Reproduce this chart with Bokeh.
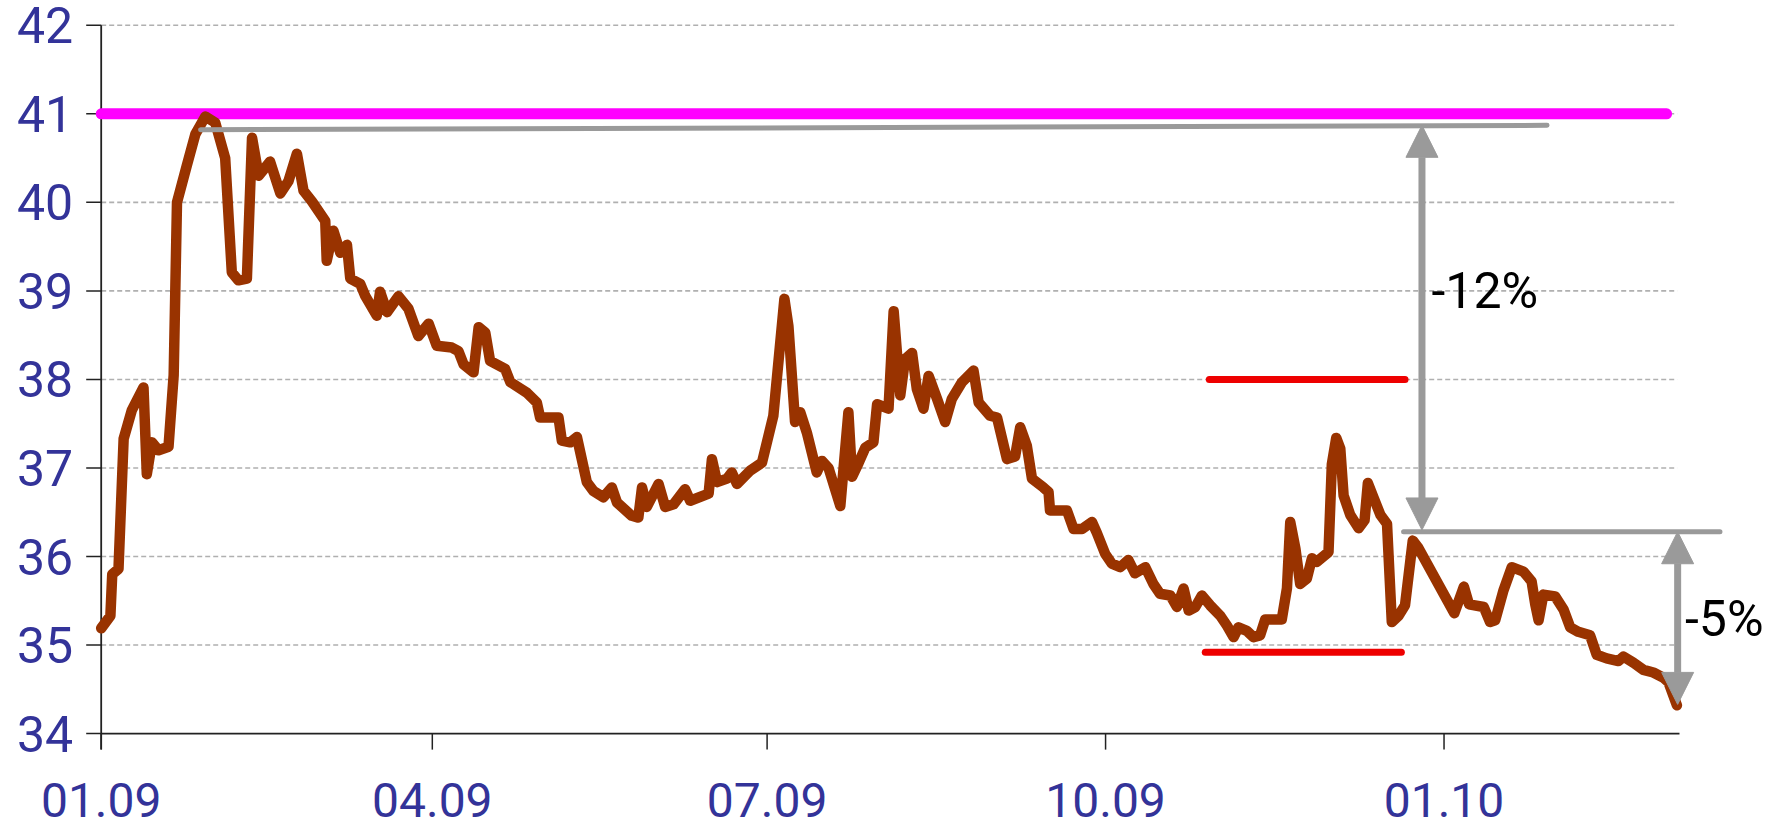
import pandas as pd
from bokeh.plotting import figure
from bokeh.models import Range1d, Arrow, NormalHead, Label
from bokeh.embed import file_html
from bokeh.resources import INLINE

# ---------------- data ----------------
start_date = "2009-01-01"
day_offset = [
    0.0, 2.5, 3.0, 4.7, 6.1, 8.3, 11.5, 12.4, 13.8, 15.6, 18.3, 19.7, 20.6, 23.3, 25.6,
    28.3, 31.0, 33.7, 35.5, 37.3, 39.6, 41.0, 42.8, 45.9, 48.7, 50.9, 53.2, 55.0, 57.3,
    60.9, 61.3, 63.1, 65.0, 66.8, 67.7, 70.4, 71.8, 74.9, 75.8, 77.7, 80.8, 83.5, 86.2,
    89.0, 91.2, 95.3, 97.1, 98.5, 101.2, 102.6, 104.4, 105.7, 109.8, 111.2, 115.7, 118.4,
    119.3, 124.3, 125.2, 127.5, 129.3, 132.0, 133.8, 136.5, 138.8, 140.2, 144.2, 146.0,
    147.0, 148.3, 151.5, 153.3, 155.6, 158.7, 160.1, 165.1, 166.0, 167.4, 170.1, 171.4,
    172.8, 176.4, 179.6, 182.7, 185.7, 186.8, 188.6, 190.0, 191.8, 194.5, 195.9, 197.7,
    200.9, 203.1, 204.1, 205.9, 207.7, 209.9, 210.9, 214.0, 215.4, 217.2, 218.5, 220.4,
    221.7, 223.5, 224.9, 227.2, 229.4, 231.2, 234.0, 237.1, 238.5, 241.6, 243.5, 246.2,
    248.4, 249.8, 251.6, 253.0, 256.1, 257.5, 257.9, 262.5, 264.3, 266.6, 269.3, 270.6,
    272.9, 274.7, 277.0, 279.2, 281.0, 283.8, 286.0, 287.8, 290.6, 292.4, 294.2, 295.6,
    297.4, 299.2, 301.4, 304.2, 306.0, 307.8, 309.1, 311.4, 313.2, 315.0, 316.4, 320.9,
    322.3, 323.2, 324.6, 325.9, 327.7, 329.1, 330.4, 333.6, 334.5, 335.7, 336.8, 337.7,
    339.5, 341.8, 343.4, 344.3, 345.9, 347.7, 349.5, 350.8, 352.6, 354.4, 356.5, 358.0,
    367.8, 370.4, 371.8, 375.8, 377.5, 378.9, 381.1, 383.4, 386.6, 388.8, 389.8, 390.7,
    392.0, 395.2, 397.5, 399.3, 401.5, 404.7, 406.5, 409.2, 412.4, 413.8, 416.5, 419.2,
    421.9, 424.7, 426.0, 428.3,
]
price = [
    35.19, 35.33, 35.80, 35.86, 37.33, 37.65, 37.91, 36.93, 37.29, 37.20, 37.24, 38.05, 40.00, 40.42, 40.77,
    40.97, 40.90, 40.50, 39.21, 39.12, 39.14, 40.73, 40.30, 40.46, 40.10, 40.24, 40.55, 40.13, 40.01,
    39.79, 39.34, 39.68, 39.43, 39.52, 39.14, 39.08, 38.94, 38.72, 38.99, 38.76, 38.94, 38.80, 38.49,
    38.63, 38.38, 38.36, 38.32, 38.17, 38.08, 38.59, 38.53, 38.21, 38.12, 37.97, 37.85, 37.74,
    37.57, 37.57, 37.31, 37.29, 37.35, 36.84, 36.74, 36.67, 36.78, 36.61, 36.46, 36.44,
    36.78, 36.56, 36.82, 36.56, 36.59, 36.76, 36.63, 36.71, 37.10, 36.84, 36.88, 36.95,
    36.82, 36.97, 37.06, 37.59, 38.91, 38.60, 37.52, 37.63, 37.40, 36.95, 37.08, 37.00,
    36.57, 37.63, 36.90, 37.06, 37.23, 37.29, 37.72, 37.67, 38.77, 37.82, 38.23, 38.30,
    37.89, 37.67, 38.04, 37.78, 37.52, 37.78, 37.97, 38.10, 37.74, 37.59, 37.57, 37.10,
    37.13, 37.46, 37.25, 36.88, 36.78, 36.73, 36.52, 36.52, 36.31, 36.31, 36.39, 36.27,
    36.03, 35.92, 35.88, 35.96, 35.81, 35.88, 35.69, 35.58, 35.56, 35.43, 35.64, 35.39,
    35.43, 35.56, 35.45, 35.33, 35.22, 35.09, 35.20, 35.16, 35.09, 35.11, 35.29, 35.29,
    35.64, 36.39, 36.09, 35.69, 35.75, 35.98, 35.94, 36.05, 37.04, 37.34, 37.22, 36.69,
    36.47, 36.32, 36.41, 36.83, 36.66, 36.47, 36.37, 35.26, 35.33, 35.45, 36.18, 36.10,
    35.36, 35.66, 35.46, 35.43, 35.26, 35.28, 35.61, 35.88, 35.83, 35.72, 35.46, 35.28,
    35.57, 35.55, 35.40, 35.20, 35.15, 35.11, 34.89, 34.85, 34.82, 34.87, 34.80, 34.72,
    34.69, 34.63, 34.58, 34.32,
]

tick_dates = ["2009-01-01", "2009-04-01", "2009-07-01", "2009-10-01", "2010-01-01"]
tick_labels = ["01.09", "04.09", "07.09", "10.09", "01.10"]
y_ticks = [34, 35, 36, 37, 38, 39, 40, 41, 42]
grid_values = [35, 36, 37, 38, 39, 40, 41, 42]

# annotation values (days since start, price levels)
resistance_level = 41.0
resistance_days = [0.0, 425.5]
peak_line_days = [27.0, 393.0]
peak_line_levels = [40.82, 40.87]
upper_red_days = [301.2, 354.4]
upper_red_level = 38.0
lower_red_days = [300.1, 353.4]
lower_red_level = 34.92
mid_line_days = [354.0, 440.0]
mid_line_level = 36.28
drop1_day, drop1_top, drop1_bottom, drop1_text = 359.0, 40.87, 36.30, "-12%"
drop2_day, drop2_top, drop2_bottom, drop2_text = 428.5, 36.28, 34.33, "-5%"
data_end_day = 428.4
axis_end_day = 429.0

# ---------------- figure ----------------
start = pd.Timestamp(start_date)
tick_pos = [(pd.Timestamp(d) - start).days for d in tick_dates]

FONT = "Roboto"
LABEL_COLOR = "#333399"
GRAY = "#9a9a9a"
AXIS = "#222222"
PX_PER_UNIT = 88.54            # vertical scale (px per price unit)
PX_PER_DAY = 3.679             # horizontal scale (px per day)
x_tick_len = 16 / PX_PER_UNIT  # in price units
y_tick_len = 15 / PX_PER_DAY   # in days
y_label_gap = 28 / PX_PER_DAY  # tick + standoff, in days
x_label_drop = 66 / PX_PER_UNIT  # axis line to label centre, in price units
y_floor = y_ticks[0]

# whole canvas is the frame; axes drawn as glyphs / labels
p = figure(width=1767, height=826, output_backend="svg", toolbar_location=None,
           x_axis_location=None, y_axis_location=None,
           x_range=Range1d(-100.7 / PX_PER_DAY, (1767 - 100.7) / PX_PER_DAY),
           y_range=Range1d(32.951, 42.02 + 23 / PX_PER_UNIT),
           min_border_left=0, min_border_right=0, min_border_top=0, min_border_bottom=0)
p.outline_line_color = None
p.xgrid.visible = False
p.ygrid.visible = False
p.background_fill_color = "white"
p.border_fill_color = "white"

# dashed gridlines
p.segment(x0=[0] * len(grid_values), y0=grid_values,
          x1=[data_end_day] * len(grid_values), y1=grid_values,
          line_color="#b0b0b0", line_width=1.6, line_dash="5 3")
# axis lines
p.segment(x0=[0, 0], y0=[y_floor, y_ticks[-1]], x1=[axis_end_day, 0],
          y1=[y_floor, y_floor - x_tick_len], line_color=AXIS, line_width=1.8)
# x ticks
p.segment(x0=tick_pos, y0=[y_floor] * len(tick_pos), x1=tick_pos,
          y1=[y_floor - x_tick_len] * len(tick_pos), line_color=AXIS, line_width=1.5)
# y ticks
p.segment(x0=[0] * len(y_ticks), y0=y_ticks, x1=[-y_tick_len] * len(y_ticks), y1=y_ticks,
          line_color=AXIS, line_width=1.5)

# red lines
p.line(upper_red_days, [upper_red_level] * 2, line_color="#ee0000", line_width=7, line_cap="round")
p.line(lower_red_days, [lower_red_level] * 2, line_color="#ee0000", line_width=7, line_cap="round")

# magenta resistance
p.line(resistance_days, [resistance_level] * 2, line_color="#ff00ff", line_width=11, line_cap="round")

# price series
p.line(day_offset, price, line_color="#993300", line_width=10.5, line_join="round", line_cap="round")

# gray lines
p.line(peak_line_days, peak_line_levels, line_color=GRAY, line_width=5, line_cap="round")
p.line(mid_line_days, [mid_line_level] * 2, line_color=GRAY, line_width=5, line_cap="round")

for xd, y0, y1 in [(drop1_day, drop1_top, drop1_bottom), (drop2_day, drop2_top, drop2_bottom)]:
    p.add_layout(Arrow(
        start=NormalHead(size=32, fill_color=GRAY, line_color=GRAY),
        end=NormalHead(size=32, fill_color=GRAY, line_color=GRAY),
        x_start=xd, y_start=y0, x_end=xd, y_end=y1,
        line_color=GRAY, line_width=7))

p.add_layout(Label(x=drop1_day + 2.6, y=39.0, text=drop1_text, text_font=FONT,
                   text_font_size="50px", text_color="black", text_baseline="middle"))
p.add_layout(Label(x=drop2_day + 2.0, y=35.3, text=drop2_text, text_font=FONT,
                   text_font_size="50px", text_color="black", text_baseline="middle"))

# y tick labels
for v in y_ticks:
    p.add_layout(Label(x=-y_label_gap, y=v, text=str(v), text_font=FONT, text_font_size="50px",
                       text_color=LABEL_COLOR, text_align="right", text_baseline="middle"))

# x tick labels
for t, lab in zip(tick_pos, tick_labels):
    p.add_layout(Label(x=t, y=y_floor - x_label_drop, text=lab, text_font=FONT, text_font_size="48px",
                       text_color=LABEL_COLOR, text_align="center", text_baseline="middle"))

open("out.html", "w").write(file_html(p, INLINE))
